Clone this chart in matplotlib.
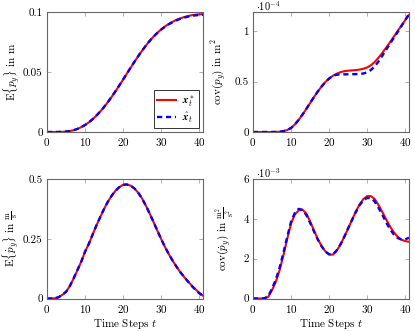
#!/usr/bin/env python3
"""Optimal vs. estimated trajectory: mean and covariance of p_y and its rate.

Four panels (2x2), red solid = optimal x_t^*, blue dashed = estimate x_hat_t.
Writes out.png (415x331 px).
"""

import matplotlib
matplotlib.use("Agg")
import matplotlib.pyplot as plt

# ---- data ----------------------------------------------------------------
T = list(range(42))

POS_OPT = [0, 0, 0.00001, 0.00004, 0.00014, 0.00037, 0.00079, 0.0015, 0.00257,
           0.004, 0.00584, 0.00807, 0.01068, 0.01369, 0.01709, 0.02085, 0.02494,
           0.02933, 0.03395, 0.03877, 0.04371, 0.04871, 0.0537, 0.05859, 0.06333,
           0.06784, 0.07207, 0.07597, 0.07952, 0.08269, 0.08549, 0.08793, 0.09004,
           0.09185, 0.09339, 0.09467, 0.09573, 0.09659, 0.09726, 0.09775, 0.09808,
           0.09827]
POS_EST = [0, 0, 0.00001, 0.00004, 0.00014, 0.00037, 0.00079, 0.0015, 0.00257,
           0.004, 0.00584, 0.00807, 0.01068, 0.01369, 0.01709, 0.02085, 0.02494,
           0.02933, 0.03395, 0.03877, 0.04371, 0.04871, 0.0537, 0.05859, 0.06333,
           0.06784, 0.07207, 0.07597, 0.07952, 0.08255, 0.0853, 0.08768, 0.08975,
           0.09152, 0.09302, 0.09427, 0.09529, 0.09612, 0.09675, 0.09721, 0.09752,
           0.09768]

# cov(p_y), in units of 1e-4 m^2
COVP_OPT = [0, 0, 0, 0, 0, 0, 0.001, 0.003, 0.008, 0.02, 0.04, 0.075, 0.12,
            0.172, 0.228, 0.287, 0.345, 0.4, 0.45, 0.495, 0.53, 0.558, 0.578,
            0.594, 0.603, 0.608, 0.611, 0.614, 0.619, 0.627, 0.64, 0.662, 0.695,
            0.737, 0.785, 0.836, 0.89, 0.945, 1.0, 1.055, 1.11, 1.16]
COVP_EST = [0, 0, 0, 0, 0, 0, 0.001, 0.003, 0.008, 0.02, 0.04, 0.075, 0.12,
            0.172, 0.228, 0.287, 0.345, 0.4, 0.45, 0.495, 0.53, 0.558, 0.568,
            0.572, 0.572, 0.572, 0.573, 0.574, 0.576, 0.58, 0.592, 0.615, 0.652,
            0.7, 0.757, 0.817, 0.875, 0.933, 0.99, 1.05, 1.11, 1.17]

VEL_OPT = [0, 0, 0.001, 0.005, 0.015, 0.028, 0.052, 0.084, 0.119, 0.154, 0.196,
           0.229, 0.268, 0.306, 0.341, 0.375, 0.405, 0.430, 0.451, 0.466, 0.476,
           0.477, 0.472, 0.46, 0.442, 0.418, 0.388, 0.355, 0.32, 0.284, 0.249,
           0.216, 0.186, 0.159, 0.134, 0.111, 0.091, 0.072, 0.055, 0.039, 0.024,
           0.012]
VEL_EST = [0, 0, 0.001, 0.005, 0.015, 0.028, 0.052, 0.084, 0.119, 0.154, 0.196,
           0.229, 0.268, 0.306, 0.341, 0.375, 0.405, 0.430, 0.451, 0.466, 0.476,
           0.477, 0.472, 0.46, 0.442, 0.418, 0.388, 0.355, 0.32, 0.284, 0.249,
           0.216, 0.186, 0.159, 0.134, 0.111, 0.091, 0.072, 0.053, 0.037, 0.022,
           0.01]

# cov(p_y dot), in units of 1e-3 m^2/s^2
COVV_OPT = [0, 0, 0, 0, 0.08, 0.42, 0.84, 1.42, 2.18, 3.0, 3.77, 4.22, 4.42,
            4.46, 4.27, 3.88, 3.43, 3.0, 2.64, 2.37, 2.21, 2.2, 2.4, 2.71, 3.1,
            3.52, 3.94, 4.36, 4.72, 4.99, 5.14, 5.14, 4.99, 4.69, 4.34, 3.97,
            3.62, 3.33, 3.1, 2.96, 2.88, 2.85]
COVV_EST = [0, 0, 0, 0.01, 0.12, 0.5, 0.95, 1.55, 2.3, 3.1, 3.85, 4.3, 4.5,
            4.45, 4.2, 3.8, 3.38, 2.97, 2.63, 2.36, 2.22, 2.22, 2.42, 2.72, 3.1,
            3.52, 3.93, 4.33, 4.68, 4.93, 5.05, 5.04, 4.87, 4.55, 4.2, 3.82,
            3.48, 3.22, 3.04, 2.96, 2.97, 3.05]

X_TICKS = [0, 10, 20, 30, 40]
PANELS = [
    # (opt, est, yticks, yticklabels, ylim, ylabel, offset, label_x)
    (POS_OPT, POS_EST, [0, 0.05, 0.1], ["0", "0.05", "0.1"], (0, 0.1),
     r"$\mathrm{E}\{p_y\}$ in m", None, -0.16),
    (COVP_OPT, COVP_EST, [0, 0.5, 1], ["0", "0.5", "1"], (0, 1.19),
     r"$\mathrm{cov}(p_y)$ in $\mathrm{m}^2$", r"$\cdot 10^{-4}$", -0.16),
    (VEL_OPT, VEL_EST, [0, 0.25, 0.5], ["0", "0.25", "0.5"], (0, 0.5),
     r"$\mathrm{E}\{\dot{p}_y\}$ in $\frac{\mathrm{m}}{\mathrm{s}}$", None, -0.165),
    (COVV_OPT, COVV_EST, [0, 2, 4, 6], ["0", "2", "4", "6"], (0, 6),
     r"$\mathrm{cov}(\dot{p}_y)$ in $\frac{\mathrm{m}^2}{\mathrm{s}^2}$",
     r"$\cdot 10^{-3}$", -0.10),
]

W, H = 415, 331
BOXES = [(47, 12, 156, 120), (253, 12, 156, 120),
         (47, 179, 156, 119.5), (253, 179, 156, 119.5)]  # px: left, top, w, h

plt.rcParams.update({
    "font.family": "serif",
    "font.serif": ["cmr10", "DejaVu Serif"],
    "mathtext.fontset": "cm",
    "axes.formatter.use_mathtext": True,
    "font.size": 8,
})


def style_axes(ax):
    for sp in ax.spines.values():
        sp.set_color("0.4")
        sp.set_linewidth(0.8)
    ax.tick_params(direction="in", top=True, right=True, length=3,
                   width=0.6, color="0.65", labelsize=8, pad=3)


def main():
    fig = plt.figure(figsize=(W / 100, H / 100), dpi=100)
    for i, (box, panel) in enumerate(zip(BOXES, PANELS)):
        opt, est, yt, ytl, ylim, ylabel, offset, lx = panel
        l, t, w, h = box
        ax = fig.add_axes([l / W, 1 - (t + h) / H, w / W, h / H])
        ax.plot(T, opt, color="#ff0000", lw=1.5, label=r"$\mathbfit{x}_t^*$")
        ax.plot(T, est, color="#0000ff", lw=1.7, ls=(0, (2.2, 1.6)),
                label=r"$\hat{\mathbfit{x}}_t$")
        ax.set_xlim(0, 41)
        ax.set_ylim(*ylim)
        ax.set_xticks(X_TICKS)
        ax.set_yticks(yt)
        ax.set_yticklabels(ytl)
        ax.set_ylabel(ylabel)
        ax.yaxis.set_label_coords(lx, 0.5)
        if offset:
            ax.text(0.02, 0.995, offset, transform=ax.transAxes,
                    ha="left", va="bottom", fontsize=7.5)
        if i >= 2:
            ax.set_xlabel(r"Time Steps $t$", labelpad=2)
        style_axes(ax)
        if i == 0:
            leg = ax.legend(loc="lower right", fontsize=8, handlelength=1.7,
                            fancybox=False, framealpha=1, borderpad=0.3,
                            labelspacing=0.15, handletextpad=0.6,
                            borderaxespad=0.35)
            leg.get_frame().set_edgecolor("0.2")
            leg.get_frame().set_linewidth(0.7)
    fig.savefig("out.png", dpi=100)


if __name__ == "__main__":
    main()
